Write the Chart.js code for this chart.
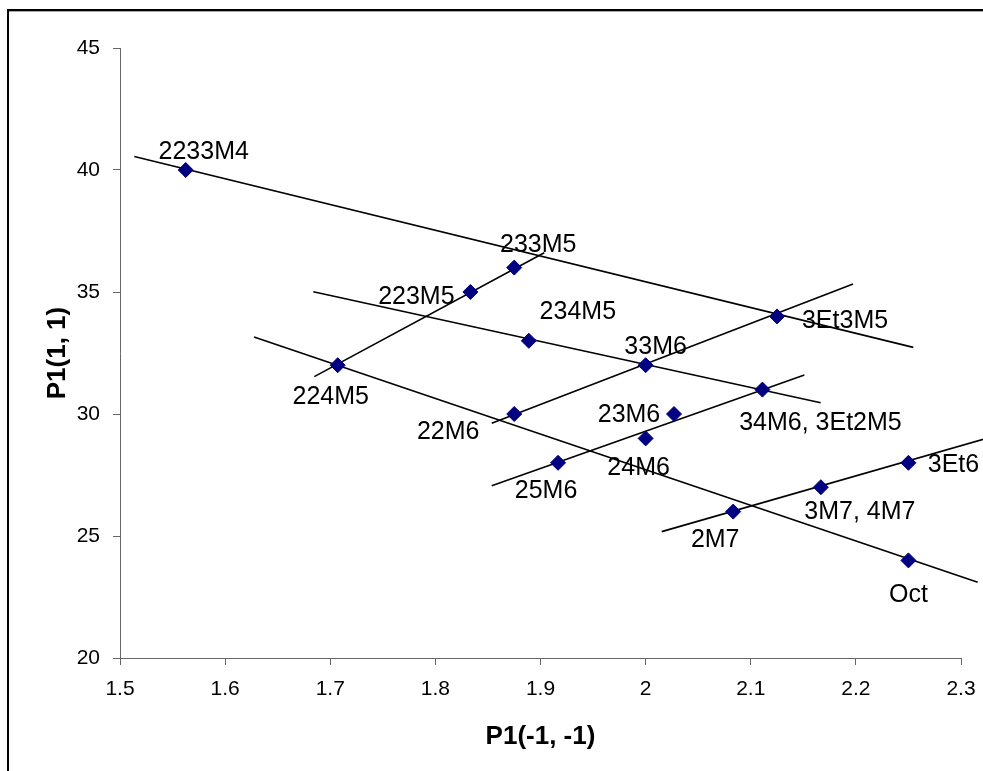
<!DOCTYPE html>
<html>
<head>
<meta charset="utf-8">
<script src="https://cdn.jsdelivr.net/npm/chart.js@4/dist/chart.umd.min.js"></script>
<style>
  html, body { margin: 0; padding: 0; background: #fff; }
  canvas { display: block; }
</style>
</head>
<body>
<canvas id="chart" width="983" height="771"></canvas>
<script>
// molecules and their two P1 indices
const names = [
  "2233M4", "233M5", "223M5", "234M5", "224M5", "33M6", "3Et3M5", "22M6",
  "23M6", "34M6, 3Et2M5", "24M6", "25M6", "3Et6", "3M7, 4M7", "2M7", "Oct",
];
const p1Minus = [
  1.5625, 1.875, 1.8333, 1.8889, 1.7071, 2.0, 2.125, 1.875,
  2.027, 2.1111, 2.0, 1.9167, 2.25, 2.1667, 2.0833, 2.25,
];
const p1Plus = [
  40, 36, 35, 33, 32, 32, 34, 30,
  30, 31, 29, 28, 28, 27, 26, 24,
];

// trend line segments (start and end of each)
const trendX1 = [1.5136, 1.6839, 1.6275, 1.6848, 1.8536, 1.8536, 2.0153];
const trendY1 = [40.55, 35.01, 33.16, 31.53, 29.62, 27.06, 25.18];
const trendX2 = [2.2546, 2.1665, 2.3159, 1.9036, 2.1973, 2.151, 2.325];
const trendY2 = [32.73, 30.46, 23.10, 36.61, 35.33, 31.60, 29.01];

const xTicks = { min: 1.5, max: 2.3, step: 0.1 };
const yTicks = { min: 20, max: 45, step: 5 };

// where each name sits relative to its marker: [dx, baseline dy]
const labelOffsets = [
  [18, -11], [24, -16], [-54, 12], [49, -22], [-7, 39], [10, -11], [68, 12], [-66, 25],
  [-45, 8], [58, 40], [-7, 37], [-12, 35], [45, 9], [39, 32], [-18, 35], [0, 42],
];

const points = p1Minus.map((x, i) => ({ x, y: p1Plus[i] }));

const trendSets = trendX1.map((x1, i) => ({
  type: "scatter",
  data: [{ x: x1, y: trendY1[i] }, { x: trendX2[i], y: trendY2[i] }],
  showLine: true,
  borderColor: "#000",
  borderWidth: 1.6,
  pointRadius: 0,
  clip: false,
}));

const frame = {
  id: "frame",
  beforeDraw(chart) {
    const ctx = chart.ctx;
    ctx.save();
    ctx.fillStyle = "#fff";
    ctx.fillRect(0, 0, chart.width, chart.height);
    ctx.fillStyle = "#000";
    ctx.fillRect(7, 9, chart.width - 7, 2);
    ctx.fillRect(7, 9, 2, chart.height - 9);
    ctx.fillStyle = "#aaa";
    ctx.fillRect(9, 11, chart.width - 9, 1);
    ctx.restore();
  },
};

const pointNames = {
  id: "pointNames",
  afterDatasetsDraw(chart) {
    const ctx = chart.ctx;
    const meta = chart.getDatasetMeta(0);
    ctx.save();
    ctx.font = "25px 'Liberation Sans', Arial, sans-serif";
    ctx.fillStyle = "#000";
    ctx.textAlign = "center";
    ctx.textBaseline = "alphabetic";
    meta.data.forEach((el, i) => {
      const [dx, dy] = labelOffsets[i];
      ctx.fillText(names[i], el.x + dx, el.y + dy);
    });
    ctx.restore();
  },
};

const tickFont = { family: "'Liberation Sans', Arial, sans-serif", size: 21 };
const titleFont = { family: "'Liberation Sans', Arial, sans-serif", size: 26, weight: "bold" };
const fmt = (v) => String(Math.round(v * 10) / 10);

new Chart("chart", {
  type: "scatter",
  data: {
    datasets: [
      {
        data: points,
        pointStyle: "rectRot",
        pointRadius: 7.5,
        pointBackgroundColor: "#000080",
        pointBorderColor: "#000080",
        pointBorderWidth: 1,
      },
      ...trendSets,
    ],
  },
  options: {
    responsive: false,
    animation: false,
    layout: { padding: { top: 48, right: 22, left: 0, bottom: 0 } },
    plugins: {
      legend: { display: false },
      tooltip: { enabled: false },
    },
    scales: {
      x: {
        type: "linear",
        min: xTicks.min,
        max: xTicks.max,
        afterFit(scale) {
          scale.height = 113;
          scale.paddingLeft = 0;
          scale.paddingRight = 0;
        },
        ticks: {
          stepSize: xTicks.step,
          color: "#000",
          font: tickFont,
          padding: 12,
          maxRotation: 0,
          callback: fmt,
        },
        grid: { drawOnChartArea: false, drawTicks: true, tickLength: 7, color: "#666" },
        border: { display: true, color: "#666", width: 1 },
        title: {
          display: true,
          text: "P1(-1, -1)",
          color: "#000",
          font: titleFont,
          padding: { top: 0, bottom: 19 },
        },
      },
      y: {
        type: "linear",
        min: yTicks.min,
        max: yTicks.max,
        afterFit(scale) {
          scale.width = 120;
          scale.paddingTop = 0;
          scale.paddingBottom = 0;
        },
        ticks: {
          stepSize: yTicks.step,
          color: "#000",
          font: tickFont,
          padding: 13,
          callback: fmt,
        },
        grid: { drawOnChartArea: false, drawTicks: true, tickLength: 7, color: "#666" },
        border: { display: true, color: "#666", width: 1 },
        title: {
          display: true,
          text: "P1(1, 1)",
          color: "#000",
          font: titleFont,
          padding: { top: 42, bottom: 0 },
        },
      },
    },
  },
  plugins: [frame, pointNames],
});
</script>
</body>
</html>
